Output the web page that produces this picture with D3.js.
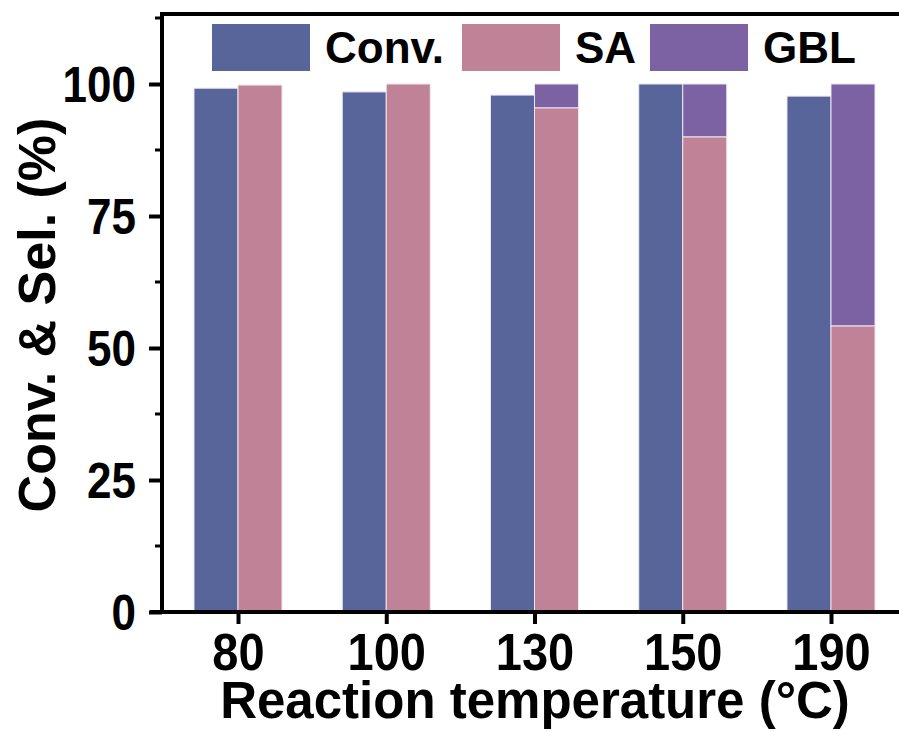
<!DOCTYPE html>
<html>
<head>
<meta charset="utf-8">
<script src="https://cdn.jsdelivr.net/npm/d3@7"></script>
<style>
  html, body { margin: 0; padding: 0; background: #fff; }
  svg { display: block; font-family: Arial, "Liberation Sans", sans-serif; font-weight: bold; }
</style>
</head>
<body>
<svg id="chart" width="899" height="731"></svg>
<script>
'use strict';

// ---- Data -------------------------------------------------------------------

const temps = ['80', '100', '130', '150', '190'];
const conv  = [99.2, 98.5, 97.9, 100.0, 97.7];
const sa    = [99.8, 100.0, 95.5, 90.0, 54.2];
const gbl   = [0.2, 0.0, 4.5, 10.0, 45.8];
const yTicks = [0, 25, 50, 75, 100];
const yMinor = [12.5, 37.5, 62.5, 87.5, 112.5];
const legendItems = ['Conv.', 'SA', 'GBL'];

const COLORS = { conv: '#58659a', sa: '#c08296', gbl: '#7d62a3' };

// ---- Layout -----------------------------------------------------------------

const svg = d3.select('#chart');
const X0 = 162, X1 = 899, Y0 = 612, YTOP = 14;
const BAR_W = 44;

const x = d3.scalePoint().domain(temps).range([238, 831]);
const y = d3.scaleLinear().domain([0, 100]).range([Y0, 84]);

// ---- Bars -------------------------------------------------------------------

const bars = svg.append('g');

bars.selectAll('.conv').data(temps).join('rect')
  .attr('x', d => x(d) - BAR_W)
  .attr('y', (d, i) => y(conv[i]))
  .attr('width', BAR_W)
  .attr('height', (d, i) => Y0 - y(conv[i]))
  .attr('fill', COLORS.conv)
  .attr('stroke', '#e8e6f0').attr('stroke-width', 1);

bars.selectAll('.sa').data(temps).join('rect')
  .attr('x', d => x(d))
  .attr('y', (d, i) => y(sa[i]))
  .attr('width', BAR_W)
  .attr('height', (d, i) => Y0 - y(sa[i]))
  .attr('fill', COLORS.sa)
  .attr('stroke', '#f2e6ea').attr('stroke-width', 1);

// GBL stacked on top of SA
bars.selectAll('.gbl').data(temps.filter((d, i) => gbl[i] > 0.5)).join('rect')
  .attr('x', d => x(d))
  .attr('y', d => { const i = temps.indexOf(d); return y(sa[i] + gbl[i]); })
  .attr('width', BAR_W)
  .attr('height', d => { const i = temps.indexOf(d); return y(sa[i]) - y(sa[i] + gbl[i]); })
  .attr('fill', COLORS.gbl)
  .attr('stroke', '#ece6f2').attr('stroke-width', 1);

// ---- Axes -------------------------------------------------------------------

const axisColor = '#000';

// top frame
svg.append('line')
  .attr('x1', X0 - 2).attr('x2', X1).attr('y1', YTOP).attr('y2', YTOP)
  .attr('stroke', axisColor).attr('stroke-width', 4);

// y axis
const yAxis = svg.append('g').attr('transform', `translate(${X0},0)`)
  .call(d3.axisLeft(y).tickValues(yTicks).tickSize(13).tickSizeOuter(0));
yAxis.select('.domain').remove();
yAxis.selectAll('line').attr('stroke', axisColor).attr('stroke-width', 4);
yAxis.selectAll('text')
  .attr('x', null).attr('dy', null)
  .attr('font-size', 44).attr('fill', '#000')
  .attr('transform', 'translate(-26,17.5) scale(1,1.13)');

// y minor ticks
svg.append('g').selectAll('line').data(yMinor).join('line')
  .attr('x1', X0 - 7).attr('x2', X0)
  .attr('y1', d => y(d)).attr('y2', d => y(d))
  .attr('stroke', axisColor).attr('stroke-width', 3);

svg.append('line')
  .attr('x1', X0).attr('x2', X0).attr('y1', YTOP - 2).attr('y2', Y0 + 2)
  .attr('stroke', axisColor).attr('stroke-width', 4);

// x axis
const xAxis = svg.append('g').attr('transform', `translate(0,${Y0})`)
  .call(d3.axisBottom(x).tickSize(12).tickSizeOuter(0));
xAxis.select('.domain').remove();
xAxis.selectAll('line').attr('stroke', axisColor).attr('stroke-width', 4);
xAxis.selectAll('text')
  .attr('y', null).attr('dy', null)
  .attr('font-size', 47).attr('fill', '#000')
  .attr('transform', 'translate(0,58) scale(1,1.1)');

svg.append('line')
  .attr('x1', X0 - 12).attr('x2', X1).attr('y1', Y0).attr('y2', Y0)
  .attr('stroke', axisColor).attr('stroke-width', 4);

// ---- Axis titles ------------------------------------------------------------

svg.append('text')
  .attr('x', 535).attr('y', 718)
  .attr('text-anchor', 'middle')
  .attr('font-size', 51)
  .text('Reaction temperature (°C)');

svg.append('text')
  .attr('transform', 'translate(55,315) rotate(-90)')
  .attr('text-anchor', 'middle')
  .attr('font-size', 52)
  .text('Conv. & Sel. (%)');

// ---- Legend -----------------------------------------------------------------

const legendX = [212, 462, 650];
const legendColors = [COLORS.conv, COLORS.sa, COLORS.gbl];
const legend = svg.append('g');
legendItems.forEach((name, i) => {
  legend.append('rect')
    .attr('x', legendX[i]).attr('y', 24)
    .attr('width', 98).attr('height', 47)
    .attr('fill', legendColors[i]);
  legend.append('text')
    .attr('x', legendX[i] + 113).attr('y', 63)
    .attr('font-size', 44)
    .text(name);
});
</script>
</body>
</html>
